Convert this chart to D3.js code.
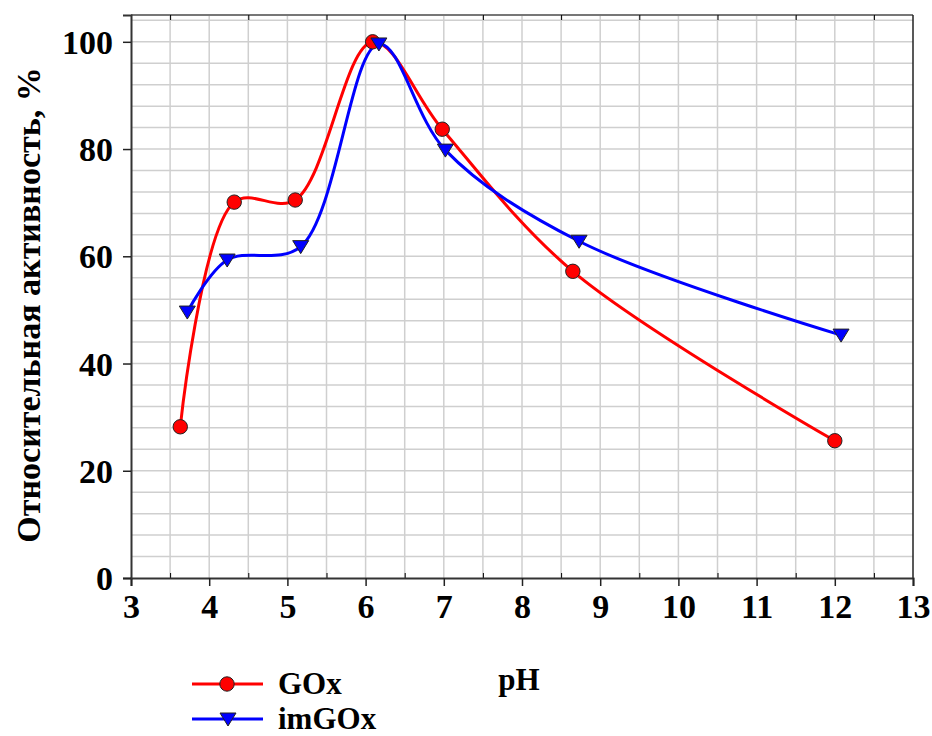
<!DOCTYPE html>
<html>
<head>
<meta charset="utf-8">
<script src="https://cdn.jsdelivr.net/npm/d3@7"></script>
<style>
  body { margin: 0; background: #fff; }
  text { font-family: "Liberation Serif", "Times New Roman", serif; font-weight: bold; }
</style>
</head>
<body>
<div id="chart"></div>
<script>
// data
var gox_ph = [3.63, 4.32, 5.1, 6.09, 6.98, 8.65, 12.0];
var gox_act = [28.2, 70.1, 70.5, 100, 83.7, 57.2, 25.6];
var imgox_ph = [3.72, 4.23, 5.17, 6.17, 7.02, 8.73, 12.08];
var imgox_act = [49.6, 59.3, 61.8, 99.6, 79.8, 62.8, 45.3];
var xTicks = [3, 4, 5, 6, 7, 8, 9, 10, 11, 12, 13];
var yTicks = [0, 20, 40, 60, 80, 100];
var seriesNames = ["GOx", "imGOx"];

var svgWidth = 932, svgHeight = 736;
var margin = { top: 15, right: 19, bottom: 158, left: 131 };
var width = svgWidth - margin.left - margin.right;
var height = svgHeight - margin.top - margin.bottom;

var svg = d3.select("#chart").append("svg")
    .attr("width", svgWidth)
    .attr("height", svgHeight);
var g = svg.append("g")
    .attr("transform", "translate(" + margin.left + "," + margin.top + ")");

var xScale = d3.scaleLinear().domain([3, 13]).range([0, width]);
var yScale = d3.scaleLinear().domain([0, 105]).range([height, 0]);

// grid
g.append("g").selectAll("line")
    .data(d3.range(3.5, 13, 0.5))
    .enter().append("line")
    .attr("x1", function(d) { return xScale(d); })
    .attr("x2", function(d) { return xScale(d); })
    .attr("y1", 0).attr("y2", height)
    .attr("stroke", "#cfcfcf").attr("stroke-width", 1.5);
g.append("g").selectAll("line")
    .data(d3.range(4, 105, 4))
    .enter().append("line")
    .attr("y1", function(d) { return yScale(d); })
    .attr("y2", function(d) { return yScale(d); })
    .attr("x1", 0).attr("x2", width)
    .attr("stroke", "#cfcfcf").attr("stroke-width", 1.5);

// frame top / right
g.append("line").attr("x1", 0).attr("x2", width).attr("y1", 0).attr("y2", 0)
    .attr("stroke", "#777").attr("stroke-width", 2);
g.append("line").attr("x1", width).attr("x2", width).attr("y1", 0).attr("y2", height)
    .attr("stroke", "#222").attr("stroke-width", 1.5);

// minor inward ticks on top and bottom
g.append("g").attr("transform", "translate(0," + height + ")")
    .call(d3.axisBottom(xScale).tickValues(d3.range(3.5, 13, 1)).tickSize(-5).tickFormat(""))
    .call(function(a) { a.select(".domain").remove(); });
g.append("g")
    .call(d3.axisTop(xScale).tickValues(d3.range(3.5, 13, 1)).tickSize(-5).tickFormat(""))
    .call(function(a) { a.select(".domain").remove(); });

// axes
var xAxisGroup = g.append("g")
    .attr("transform", "translate(0," + height + ")")
    .call(d3.axisBottom(xScale).tickValues(xTicks).tickSize(8).tickPadding(8).tickFormat(d3.format("d")));
var yAxisGroup = g.append("g")
    .call(d3.axisLeft(yScale).tickValues(yTicks).tickSize(8).tickPadding(10).tickFormat(d3.format("d")));

[xAxisGroup, yAxisGroup].forEach(function(a) {
    a.select(".domain").attr("stroke", "#333").attr("stroke-width", 2);
    a.selectAll(".tick line").attr("stroke", "#222").attr("stroke-width", 1.5);
    a.selectAll("text").style("font-size", "34px").attr("fill", "#000");
});
yAxisGroup.selectAll("text").attr("dy", "0.34em");

// y title
svg.append("text")
    .attr("transform", "translate(40," + 305 + ") rotate(-90)")
    .style("text-anchor", "middle")
    .style("font-size", "34px")
    .text("Относительная активность, %");

svg.append("text")
    .attr("x", 519).attr("y", 690)
    .style("text-anchor", "middle")
    .style("font-size", "31px")
    .text("pH");

// curves
var line = d3.line()
    .x(function(d) { return xScale(d[0]); })
    .y(function(d) { return yScale(d[1]); })
    .curve(d3.curveCatmullRom.alpha(0.5));

var goxData = gox_ph.map(function(p, i) { return [p, gox_act[i]]; });
var imgoxData = imgox_ph.map(function(p, i) { return [p, imgox_act[i]]; });

g.append("path").datum(goxData)
    .attr("d", line).attr("fill", "none")
    .attr("stroke", "#ff0000").attr("stroke-width", 3);
g.append("path").datum(imgoxData)
    .attr("d", line).attr("fill", "none")
    .attr("stroke", "#0000ff").attr("stroke-width", 3);

var tri = "M-8,-6L8,-6L0,7Z";

g.selectAll(".gox").data(goxData).enter().append("circle")
    .attr("cx", function(d) { return xScale(d[0]); })
    .attr("cy", function(d) { return yScale(d[1]); })
    .attr("r", 7.2)
    .attr("fill", "#ff0000").attr("stroke", "#222").attr("stroke-width", 1);
g.selectAll(".imgox").data(imgoxData).enter().append("path")
    .attr("d", tri)
    .attr("transform", function(d) { return "translate(" + xScale(d[0]) + "," + yScale(d[1]) + ")"; })
    .attr("fill", "#0000ff").attr("stroke", "#222").attr("stroke-width", 1);

// legend
var legend = svg.append("g");
var legendColors = ["#ff0000", "#0000ff"];
seriesNames.forEach(function(name, i) {
    var y = 684 + i * 35;
    legend.append("line").attr("x1", 192).attr("x2", 263).attr("y1", y).attr("y2", y)
        .attr("stroke", legendColors[i]).attr("stroke-width", 3);
    if (i === 0) {
        legend.append("circle").attr("cx", 227).attr("cy", y).attr("r", 7.2)
            .attr("fill", legendColors[i]).attr("stroke", "#222").attr("stroke-width", 1);
    } else {
        legend.append("path").attr("d", tri)
            .attr("transform", "translate(228," + y + ")")
            .attr("fill", legendColors[i]).attr("stroke", "#222").attr("stroke-width", 1);
    }
    legend.append("text").attr("x", 278).attr("y", y + 10)
        .style("font-size", "31px").text(name);
});
</script>
</body>
</html>
